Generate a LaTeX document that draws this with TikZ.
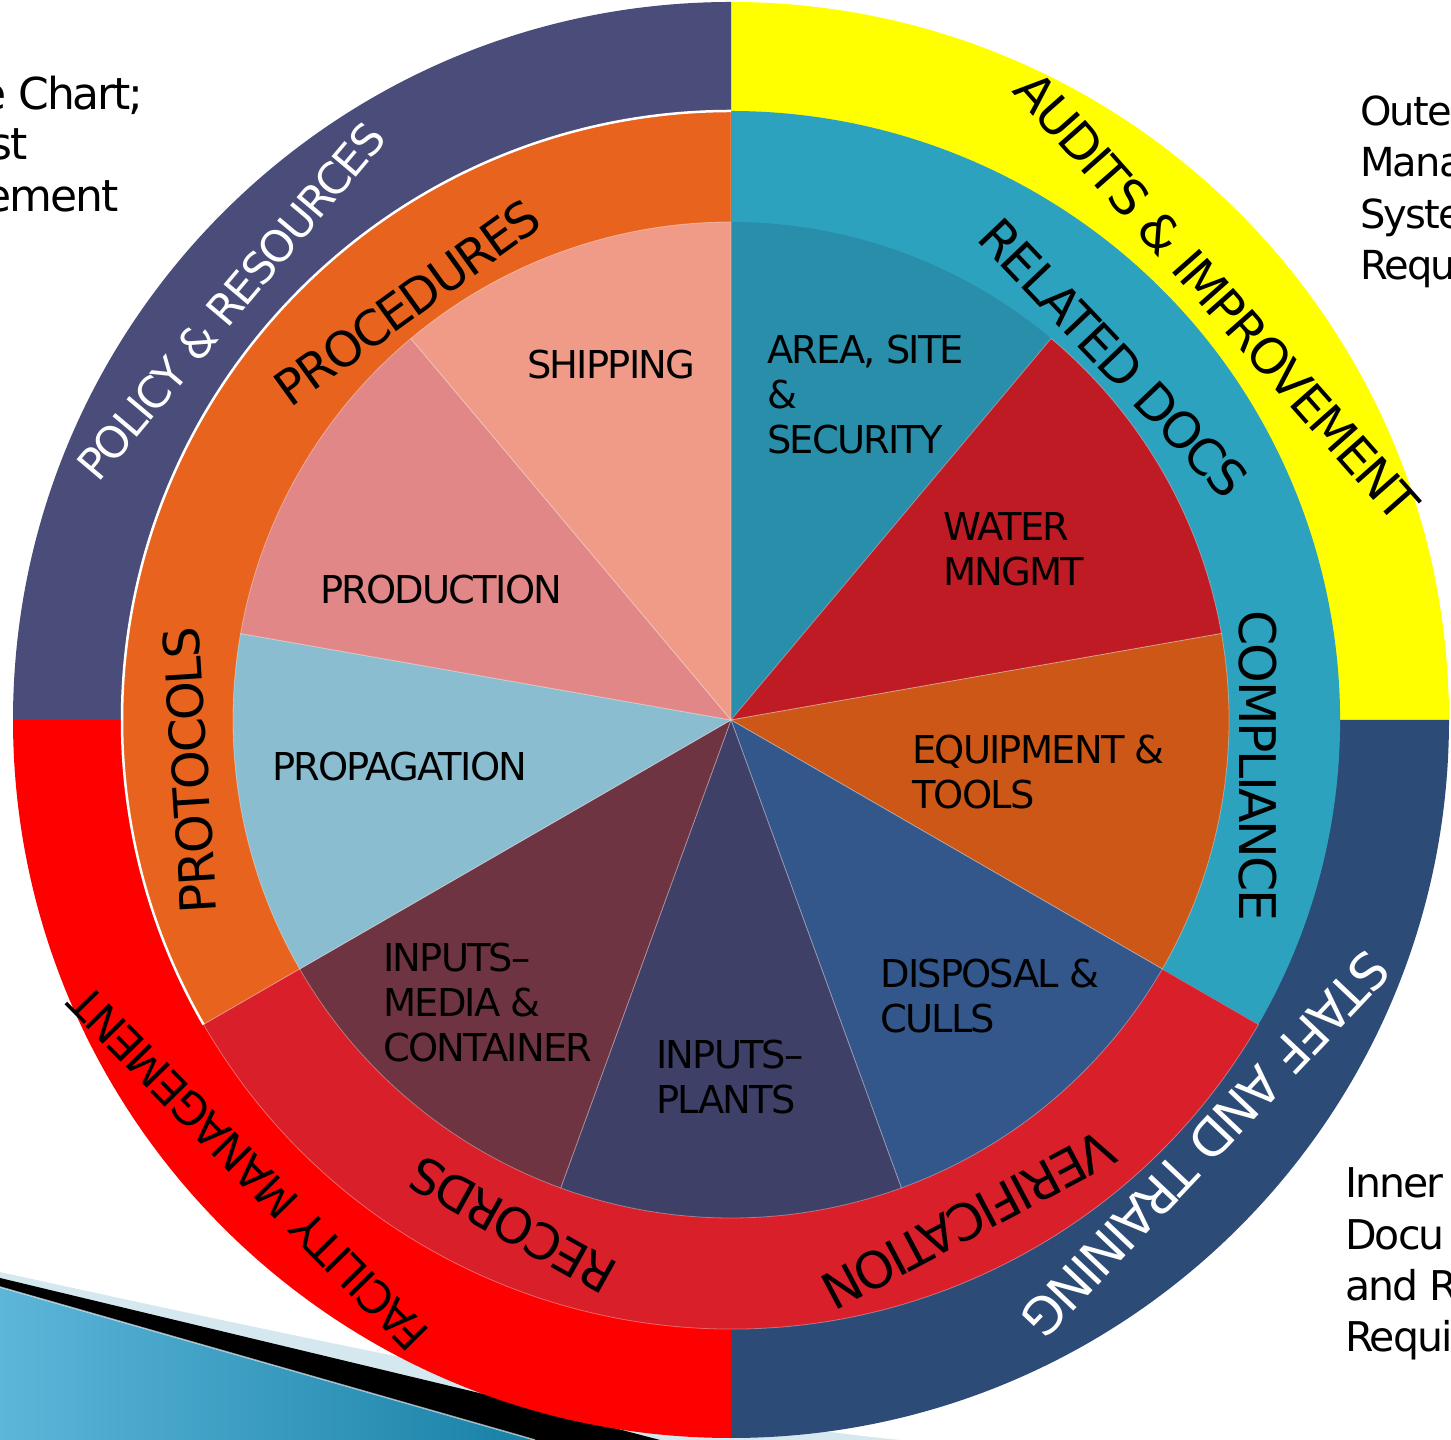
\documentclass[tikz,border=0pt]{standalone}
\usepackage{fontspec}
\setmainfont{DejaVu Sans}[LetterSpace=-4.7]
\definecolor{cPolicy}{RGB}{74,76,122}
\definecolor{cAudit}{RGB}{255,255,0}
\definecolor{cStaff}{RGB}{45,75,119}
\definecolor{cFacil}{RGB}{255,0,0}
\definecolor{cProc}{RGB}{232,100,30}
\definecolor{cRel}{RGB}{44,162,190}
\definecolor{cRec}{RGB}{217,31,41}
\definecolor{cArea}{RGB}{41,142,170}
\definecolor{cWater}{RGB}{191,27,36}
\definecolor{cEquip}{RGB}{204,87,22}
\definecolor{cDisp}{RGB}{51,87,138}
\definecolor{cPlant}{RGB}{62,64,104}
\definecolor{cMedia}{RGB}{110,52,65}
\definecolor{cProp}{RGB}{138,189,208}
\definecolor{cProd}{RGB}{225,135,135}
\definecolor{cShip}{RGB}{239,155,135}
\definecolor{cDecoLight}{RGB}{214,232,239}
\definecolor{cDecoA}{RGB}{92,182,218}
\definecolor{cDecoB}{RGB}{24,128,165}
\newcommand{\sect}[5]{\filldraw[fill=#1,#5] (731,720) -- ++(#2:#4) arc[start angle=#2, end angle=#3, radius=#4] -- cycle;}
\tikzset{
  slicelbl/.style={font=\fontsize{38.4}{45}\selectfont, align=left, anchor=north west, inner sep=0pt, text=black},
  ringlbl/.style={inner sep=0pt, anchor=center, text=black},
  sidetxt/.style={inner sep=0pt, text=black},
  noline/.style={draw=none},
  faint/.style={draw=white, draw opacity=0.35, line width=0.8pt}
}
\begin{document}
\begin{tikzpicture}[x=1pt,y=1pt]
\useasboundingbox (0,0) rectangle (1451,1440);
% slide decoration (bottom left)
\fill[cDecoLight] (0,168) .. controls (400,80) and (700,20) .. (900,0) -- (0,0) -- cycle;
\fill[black] (0,162) -- (500,42) -- (660,0) -- (0,0) -- cycle;
\shade[left color=cDecoA, right color=cDecoB] (0,153) -- (535,0) -- (0,0) -- cycle;
\draw[white, opacity=0.6, line width=1.5pt] (0,153) -- (535,0);
% outer ring
\sect{cAudit}{0}{90}{718}{noline}
\sect{cPolicy}{90}{180}{718}{noline}
\sect{cFacil}{180}{270}{718}{noline}
\sect{cStaff}{270}{360}{718}{noline}
% middle ring
\sect{cProc}{90}{210}{609}{faint}
\sect{cRec}{210}{330}{609}{faint}
\sect{cRel}{-30}{90}{609}{noline}
\draw[white, line width=2.5pt] (731,720) ++(90:609) arc[start angle=90, end angle=210, radius=609];
% inner pie
\sect{cArea}{50}{90}{498}{noline}
\sect{cWater}{10}{50}{498}{faint}
\sect{cEquip}{-30}{10}{498}{faint}
\sect{cDisp}{-70}{-30}{498}{faint}
\sect{cPlant}{-110}{-70}{498}{faint}
\sect{cMedia}{-150}{-110}{498}{faint}
\sect{cProp}{170}{210}{498}{faint}
\sect{cProd}{130}{170}{498}{faint}
\sect{cShip}{90}{130}{498}{faint}
% slice labels
\node[slicelbl] (ship) at (527,1090) {SHIPPING};
\node[slicelbl] (area) at (767,1105) {AREA, SITE\\\&\\SECURITY};
\node[slicelbl] (water) at (943,928) {WATER\\MNGMT};
\node[slicelbl] (equip) at (912,705) {EQUIPMENT \&\\TOOLS};
\node[slicelbl] (disp) at (880,481) {DISPOSAL \&\\CULLS};
\node[slicelbl] (plants) at (656,400) {INPUTS--\\PLANTS};
\node[slicelbl] (media) at (383,497) {INPUTS--\\MEDIA \&\\CONTAINER};
\node[slicelbl] (prop) at (272,688) {PROPAGATION};
\node[slicelbl] (prod) at (320,865) {PRODUCTION};
% middle ring labels
\node[ringlbl, font=\fontsize{48.5}{58}\selectfont, rotate=35.8] (proc) at (407.5,1137.5) {PROCEDURES};
\node[ringlbl, font=\fontsize{49.8}{58}\selectfont, rotate=-46.4] (rel) at (1113.5,1082) {RELATED DOCS};
\node[ringlbl, font=\fontsize{50.5}{58}\selectfont, rotate=-90] (comp) at (1258,674) {COMPLIANCE};
\node[ringlbl, font=\fontsize{49.5}{58}\selectfont, rotate=93.6] (prot) at (190,669.5) {PROTOCOLS};
\node[ringlbl, font=\fontsize{49}{58}\selectfont, rotate=150.9] (rec) at (512.5,215) {RECORDS};
\node[ringlbl, font=\fontsize{50.4}{58}\selectfont, rotate=207.9] (ver) at (968.5,220) {VERIFICATION};
% outer ring labels
\node[ringlbl, font=\fontsize{43.5}{50}\selectfont, text=white, rotate=49.9] (policy) at (231,1138.5) {POLICY \& RESOURCES};
\node[ringlbl, font=\fontsize{49.3}{56}\selectfont, rotate=-48.5] (audits) at (1217,1143.5) {AUDITS \& IMPROVEMENT};
\node[ringlbl, font=\fontsize{51}{58}\selectfont, text=white, rotate=226.6] (staff) at (1205.5,295) {STAFF AND TRAINING};
\node[ringlbl, font=\fontsize{44.7}{52}\selectfont, rotate=134.5] (facil) at (248.5,271.5) {FACILITY MANAGEMENT};
% side texts (clipped by the page)
\node[sidetxt, anchor=base east, font=\fontsize{44}{51}\selectfont] (tl1) at (144,1330) {e Chart;};
\node[sidetxt, anchor=base east, font=\fontsize{44}{51}\selectfont] (tl2) at (28,1280) {st};
\node[sidetxt, anchor=base east, font=\fontsize{44}{51}\selectfont] (tl3) at (119,1228) {ement};
\node[sidetxt, anchor=base west, font=\fontsize{40}{52}\selectfont] (tr1) at (1360,1314) {Oute};
\node[sidetxt, anchor=base west, font=\fontsize{40}{52}\selectfont] (tr2) at (1360,1263) {Mana};
\node[sidetxt, anchor=base west, font=\fontsize{40}{52}\selectfont] (tr3) at (1360,1211) {Syste};
\node[sidetxt, anchor=base west, font=\fontsize{40}{52}\selectfont] (tr4) at (1360,1160) {Requ};
\node[sidetxt, anchor=base west, font=\fontsize{41}{51}\selectfont] (br1) at (1345,242) {Inner};
\node[sidetxt, anchor=base west, font=\fontsize{41}{51}\selectfont] (br2) at (1345,190) {Docu};
\node[sidetxt, anchor=base west, font=\fontsize{41}{51}\selectfont] (br3) at (1345,139) {and R};
\node[sidetxt, anchor=base west, font=\fontsize{41}{51}\selectfont] (br4) at (1345,88) {Requi};
\end{tikzpicture}
\end{document}
